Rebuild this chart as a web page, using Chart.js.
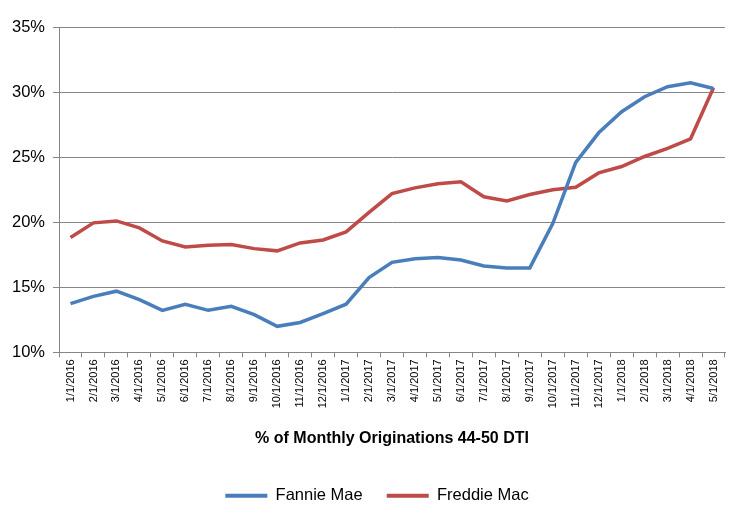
<!DOCTYPE html>
<html lang="en">
<head>
<meta charset="utf-8">
<title>% of Monthly Originations 44-50 DTI</title>
<script src="https://cdn.jsdelivr.net/npm/chart.js@4/dist/chart.umd.min.js"></script>
<style>
  html, body { margin: 0; padding: 0; background: #fff; }
  .wrap { width: 750px; height: 523px; }
</style>
</head>
<body>
<div class="wrap">
  <canvas id="chart-area" width="750" height="523"></canvas>
</div>

<script>
// months on the x axis
var months = [
  '1/1/2016', '2/1/2016', '3/1/2016', '4/1/2016', '5/1/2016', '6/1/2016',
  '7/1/2016', '8/1/2016', '9/1/2016', '10/1/2016', '11/1/2016', '12/1/2016',
  '1/1/2017', '2/1/2017', '3/1/2017', '4/1/2017', '5/1/2017', '6/1/2017',
  '7/1/2017', '8/1/2017', '9/1/2017', '10/1/2017', '11/1/2017', '12/1/2017',
  '1/1/2018', '2/1/2018', '3/1/2018', '4/1/2018', '5/1/2018'
];

// share of originations, in percent
var fannieMae = [
  13.75, 14.3, 14.7, 14.05, 13.23, 13.7, 13.23, 13.54, 12.9, 12.0,
  12.3, 12.98, 13.7, 15.75, 16.92, 17.2, 17.28, 17.1, 16.64, 16.49,
  16.49, 19.9, 24.59, 26.87, 28.49, 29.64, 30.41, 30.72, 30.28
];
var freddieMac = [
  18.82, 19.95, 20.1, 19.56, 18.56, 18.1, 18.23, 18.28, 17.97, 17.8,
  18.41, 18.64, 19.26, 20.75, 22.2, 22.64, 22.95, 23.1, 21.95, 21.64,
  22.13, 22.5, 22.69, 23.79, 24.28, 25.05, 25.67, 26.41, 30.33
];

var yTicks = [10, 15, 20, 25, 30, 35];
var xTitle = '% of Monthly Originations 44-50 DTI';

var fontFamily = '"Liberation Sans", Arial, sans-serif';
var gridGray = '#868686';

var config = {
  type: 'line',
  data: {
    labels: months,
    datasets: [{
      label: 'Fannie Mae',
      data: fannieMae,
      borderColor: '#4a7ebb',
      backgroundColor: '#4a7ebb',
      borderWidth: 3.5,
      pointRadius: 0,
      tension: 0
    }, {
      label: 'Freddie Mac',
      data: freddieMac,
      borderColor: '#be4b48',
      backgroundColor: '#be4b48',
      borderWidth: 3.5,
      pointRadius: 0,
      tension: 0
    }]
  },
  options: {
    responsive: false,
    animation: false,
    layout: { padding: { left: 4, right: 0, top: 27, bottom: 9 } },
    plugins: {
      tooltip: { enabled: false },
      legend: {
        position: 'bottom',
        labels: {
          color: '#000',
          font: { family: fontFamily, size: 16.5 },
          boxWidth: 42,
          boxHeight: 4,
          padding: 24,
          generateLabels: function(chart) {
            var items = Chart.defaults.plugins.legend.labels.generateLabels(chart);
            items.forEach(function(it) {
              it.lineWidth = 0;
              it.fillStyle = it.strokeStyle;
            });
            return items;
          }
        }
      }
    },
    scales: {
      x: {
        offset: true,
        grid: {
          offset: true,
          drawOnChartArea: false,
          drawTicks: true,
          tickLength: 5,
          color: gridGray
        },
        border: { color: gridGray },
        ticks: {
          autoSkip: false,
          minRotation: 90,
          maxRotation: 90,
          color: '#000',
          padding: 2,
          font: { family: fontFamily, size: 11 }
        },
        title: {
          display: true,
          text: xTitle,
          color: '#000',
          font: { family: fontFamily, size: 16, weight: 'bold' },
          padding: { top: 19, bottom: 15 }
        }
      },
      y: {
        min: yTicks[0],
        max: yTicks[yTicks.length - 1],
        afterBuildTicks: function(scale) {
          scale.ticks = yTicks.map(function(v) { return { value: v }; });
        },
        grid: {
          color: gridGray,
          drawTicks: true,
          tickLength: 6
        },
        border: { color: gridGray },
        ticks: {
          color: '#000',
          padding: 8,
          font: { family: fontFamily, size: 16.5 },
          callback: function(v) { return v + '%'; }
        }
      },
      // empty right-hand strip so the plot ends where the reference does
      yRight: {
        position: 'right',
        grid: { display: false },
        border: { display: false },
        ticks: { display: false },
        afterFit: function(scale) { scale.width = 25; }
      }
    }
  }
};

window.onload = function() {
  var ctx = document.getElementById('chart-area').getContext('2d');
  window.myLine = new Chart(ctx, config);
};
</script>
</body>
</html>
